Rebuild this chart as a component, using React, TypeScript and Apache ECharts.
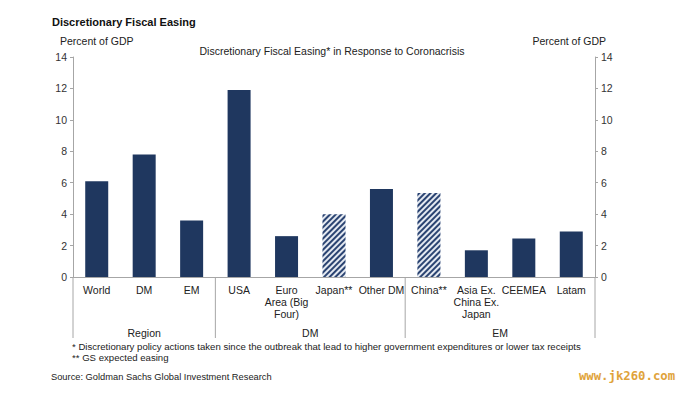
import React, { useEffect, useRef } from "react";
import * as echarts from "echarts";

const categories = [
  "World",
  "DM",
  "EM",
  "USA",
  "Euro\nArea (Big\nFour)",
  "Japan**",
  "Other DM",
  "China**",
  "Asia Ex.\nChina Ex.\nJapan",
  "CEEMEA",
  "Latam",
];
const values = [6.1, 7.8, 3.6, 11.9, 2.6, 4.0, 5.6, 5.35, 1.7, 2.45, 2.9];
const expected = [false, false, false, false, false, true, false, true, false, false, false];
const groups = [
  { name: "Region", start: 0, end: 3 },
  { name: "DM", start: 3, end: 7 },
  { name: "EM", start: 7, end: 11 },
];
const yTicks = { min: 0, max: 14, interval: 2 };

const FONT = "'Liberation Sans', Arial, sans-serif";
const NAVY = "#1f375f";
const AXIS = "#a6a6a6";

export default function App() {
  const ref = useRef<HTMLDivElement>(null);
  useEffect(() => {
    if (!ref.current) return;
    const chart = echarts.init(ref.current, undefined, { renderer: "svg" });
    const yAxisCommon = {
      type: "value" as const,
      min: yTicks.min,
      max: yTicks.max,
      interval: yTicks.interval,
      splitLine: { show: false },
      axisLine: { show: true, lineStyle: { color: AXIS, width: 1 } },
      axisTick: { show: true, length: 3, lineStyle: { color: AXIS } },
      axisLabel: { color: "#333", fontSize: 10.5, fontFamily: FONT, margin: 6 },
    };
    chart.setOption({
      animation: false,
      grid: { left: 73, right: 94, top: 57, bottom: 118, containLabel: false },
      xAxis: {
        type: "category",
        data: categories,
        axisLine: { show: true, lineStyle: { color: AXIS } },
        axisTick: { show: false },
        axisLabel: {
          interval: 0,
          color: "#222",
          fontSize: 10.5,
          fontFamily: FONT,
          lineHeight: 12,
          margin: 7,
        },
      },
      yAxis: [
        { ...yAxisCommon, position: "left" },
        { ...yAxisCommon, position: "right" },
      ],
      series: [
        {
          type: "bar",
          barWidth: 23,
          yAxisIndex: 0,
          data: values.map((v, i) =>
            expected[i]
              ? {
                  value: v,
                  itemStyle: {
                    color: "#e4e9f1",
                    decal: {
                      symbol: "rect",
                      symbolSize: 1,
                      dashArrayX: [[1, 0]],
                      dashArrayY: [1.5, 1.5],
                      rotation: -Math.PI / 4,
                      color: "#2b4472",
                    },
                  },
                }
              : { value: v, itemStyle: { color: NAVY } }
          ),
        },
      ],
    });

    const cx = (i: number) => chart.convertToPixel({ xAxisIndex: 0 }, i) as number;
    const bw = cx(1) - cx(0);
    const edge = (i: number) => cx(0) + (i - 0.5) * bw;
    const y0 = chart.convertToPixel({ yAxisIndex: 0 }, 0) as number;
    const yBottom = y0 + 61;
    const boundaries = [0, 3, 7, 11];

    const texts: any[] = [
      { x: 52, y: 22, text: "Discretionary Fiscal Easing", fontSize: 11, fontWeight: "bold", fill: "#111", align: "left" },
      { x: 60, y: 41, text: "Percent of GDP", fontSize: 10.5, fill: "#222", align: "left" },
      { x: 606, y: 41, text: "Percent of GDP", fontSize: 10.5, fill: "#222", align: "right" },
      { x: 332, y: 51, text: "Discretionary Fiscal Easing* in Response to Coronacrisis", fontSize: 10.5, fill: "#222", align: "center" },
      { x: 72, y: 346, text: "* Discretionary policy actions taken since the outbreak that lead to higher government expenditures or lower tax receipts", fontSize: 9.6, fill: "#222", align: "left" },
      { x: 72, y: 357.5, text: "** GS expected easing", fontSize: 9.6, fill: "#222", align: "left" },
      { x: 51, y: 377, text: "Source: Goldman Sachs Global Investment Research", fontSize: 9.3, fill: "#222", align: "left" },
    ];

    const graphic: any[] = [
      ...boundaries.map((b) => ({
        type: "line",
        shape: { x1: edge(b), y1: y0, x2: edge(b), y2: yBottom },
        style: { stroke: AXIS, lineWidth: 1 },
        silent: true,
      })),
      ...groups.map((g) => ({
        type: "text",
        x: (edge(g.start) + edge(g.end)) / 2,
        y: 333,
        style: {
          text: g.name,
          fontSize: 10.5,
          fontFamily: FONT,
          fill: "#222",
          align: "center",
          verticalAlign: "middle",
        },
        silent: true,
      })),
      ...texts.map((t) => ({
        type: "text",
        x: t.x,
        y: t.y,
        style: {
          text: t.text,
          fontSize: t.fontSize,
          fontWeight: t.fontWeight || "normal",
          fontFamily: FONT,
          fill: t.fill,
          align: t.align,
          verticalAlign: "middle",
        },
        silent: true,
      })),
      {
        type: "text",
        x: 627,
        y: 376,
        style: {
          text: "www.jk260.com",
          fontSize: 12.3,
          fontWeight: "bold",
          fontFamily: "'DejaVu Sans Mono', 'Liberation Mono', monospace",
          fill: "#e0a33b",
          align: "center",
          verticalAlign: "middle",
        },
        silent: true,
      },
    ];
    chart.setOption({ graphic });

    return () => chart.dispose();
  }, []);
  return (
    <div
      ref={ref}
      style={{ position: "fixed", left: 0, top: 0, width: 689, height: 395, background: "#fff" }}
    />
  );
}
